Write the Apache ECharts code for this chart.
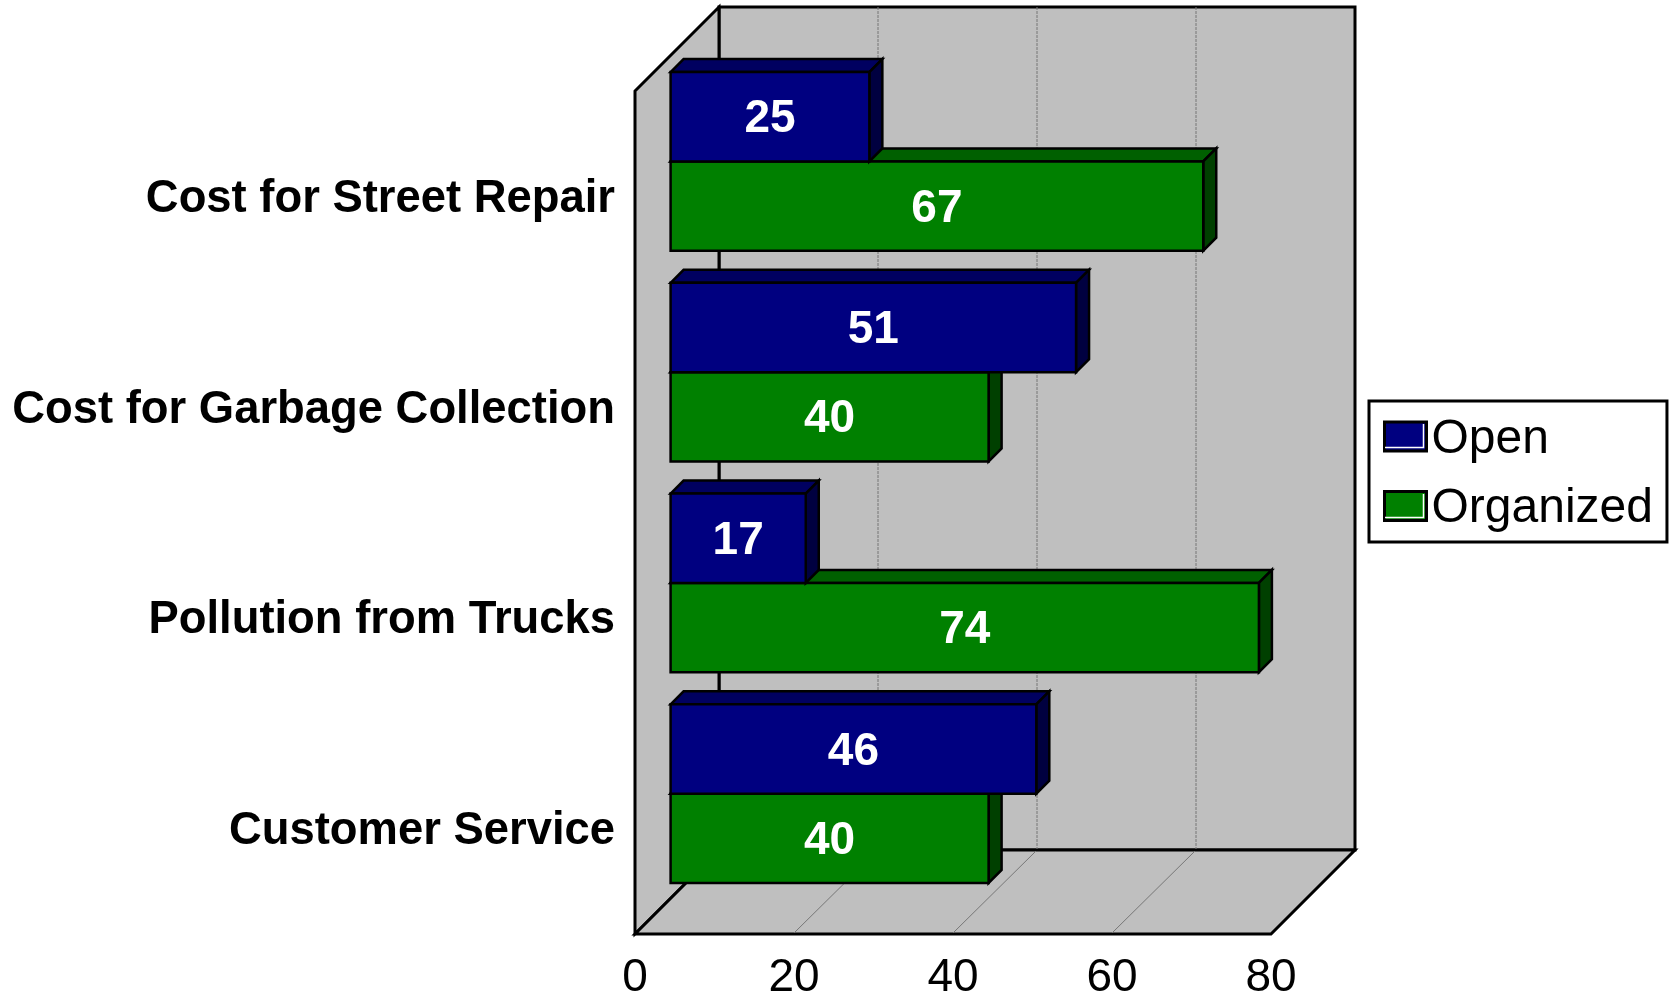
<!DOCTYPE html>
<html>
<head>
<meta charset="utf-8">
<style>
html, body { margin: 0; padding: 0; background: #fff; }
#chart { width: 1671px; height: 995px; }
</style>
<script src="https://cdn.jsdelivr.net/npm/echarts@6/dist/echarts.min.js"></script>
</head>
<body>
<div id="chart"></div>
<script>
const categories = ['Cost for Street Repair', 'Cost for Garbage Collection', 'Pollution from Trucks', 'Customer Service'];
const openValues = [25, 51, 17, 46];
const organizedValues = [67, 40, 74, 40];
const xTicks = [0, 20, 40, 60, 80];

const FONT = '"Liberation Sans", Arial, sans-serif';
const WALL_COLOR = '#BFBFBF';
const OPEN_COLOR = '#000080';
const OPEN_TOP = '#000060';
const OPEN_SIDE = '#000040';
const ORG_COLOR = '#008000';
const ORG_TOP = '#006000';
const ORG_SIDE = '#004000';

// 3D 效果的偏移
const WALL_DEPTH = 84;
const BAR_OFFSET_X = 35.6;
const BAR_OFFSET_Y = 35;
const BAR_DEPTH = 13;
const BAR_SHARE = 0.424;
const LABEL_DROP = 3;

const poly = (points, fill, lineWidth) => ({
    type: 'polygon',
    shape: { points },
    style: { fill, stroke: '#000', lineWidth, lineJoin: 'miter' }
});

const line = (x1, y1, x2, y2, lineWidth, stroke, lineDash) => ({
    type: 'line',
    shape: { x1, y1, x2, y2 },
    style: { stroke, lineWidth, lineDash }
});

const renderWalls = (params, api) => {
    let c = params.coordSys;
    let d = WALL_DEPTH;
    let left = c.x, top = c.y, right = c.x + c.width, bottom = c.y + c.height;
    let children = [
        poly([[left + d, top - d], [right + d, top - d], [right + d, bottom - d], [left + d, bottom - d]], WALL_COLOR, 3),
        poly([[left, top], [left + d, top - d], [left + d, bottom - d], [left, bottom]], WALL_COLOR, 3),
        poly([[left, bottom], [left + d, bottom - d], [right + d, bottom - d], [right, bottom]], WALL_COLOR, 3)
    ];
    xTicks.slice(1, -1).forEach((t) => {
        let x = api.coord([t, 0])[0];
        children.push(line(x + d, top - d, x + d, bottom - d - 1, 1, '#777', [3, 1]));
        children.push(line(x, bottom - 1, x + d - 1, bottom - d + 1, 1, '#777'));
    });
    return { type: 'group', children };
};

const renderBar = (side, topColor, sideColor) => (params, api) => {
    let end = api.coord([api.value(0), api.value(1)]);
    let start = api.coord([0, api.value(1)]);
    let band = api.size([0, 1])[1];
    let h = band * BAR_SHARE;
    let x0 = start[0] + BAR_OFFSET_X;
    let x1 = end[0] + BAR_OFFSET_X;
    let mid = end[1] - BAR_OFFSET_Y;
    let y0 = side < 0 ? mid - h : mid;
    let y1 = y0 + h;
    let d = BAR_DEPTH;
    return {
        type: 'group',
        children: [
            poly([[x0, y0], [x0 + d, y0 - d], [x1 + d, y0 - d], [x1, y0]], topColor, 2.5),
            poly([[x1, y0], [x1 + d, y0 - d], [x1 + d, y1 - d], [x1, y1]], sideColor, 2.5),
            poly([[x0, y0], [x1, y0], [x1, y1], [x0, y1]], api.visual('color'), 2.5),
            {
                type: 'text',
                style: {
                    x: (x0 + x1) / 2,
                    y: (y0 + y1) / 2 + LABEL_DROP,
                    text: String(api.value(0)),
                    fill: '#fff',
                    font: 'bold 46px ' + FONT,
                    align: 'center',
                    verticalAlign: 'middle'
                }
            }
        ]
    };
};

// 图例色块内侧的白色高光
const swatchShine = (top) => ({
    type: 'polyline',
    z: 100,
    silent: true,
    shape: { points: [[1385, top + 26.5], [1423.5, top + 26.5], [1423.5, top + 3]] },
    style: { fill: 'none', stroke: '#fff', lineWidth: 1.5 }
});

const toRows = (values) => values.map((v, i) => [v, i]);

const chart = echarts.init(document.getElementById('chart'), null, { renderer: 'canvas' });
chart.setOption({
    animation: false,
    backgroundColor: '#fff',
    grid: { left: 635, top: 91, width: 636, height: 843, containLabel: false, outerBoundsMode: 'none' },
    xAxis: {
        type: 'value',
        min: 0,
        max: 80,
        interval: 20,
        axisLine: { show: false },
        axisTick: { show: false },
        splitLine: { show: false },
        axisLabel: { color: '#000', fontFamily: FONT, fontSize: 46, margin: 21, showMinLabel: true, showMaxLabel: true }
    },
    yAxis: {
        type: 'category',
        inverse: true,
        data: categories,
        axisLine: { show: false },
        axisTick: { show: false },
        axisLabel: {
            margin: 20,
            interval: 0,
            formatter: '{c|{value}}',
            rich: { c: { color: '#000', fontFamily: FONT, fontSize: 45.4, fontWeight: 'bold', padding: [6, 0, 0, 0] } }
        }
    },
    legend: {
        orient: 'vertical',
        left: 1369,
        top: 401,
        padding: [14.5, 14, 9, 14],
        data: ['Open', 'Organized'],
        icon: 'rect',
        itemWidth: 42,
        itemHeight: 29,
        itemGap: 21.5,
        backgroundColor: '#fff',
        borderColor: '#000',
        borderWidth: 3,
        borderRadius: 0,
        itemStyle: { borderColor: '#000', borderWidth: 3 },
        formatter: '{t|{name}}',
        textStyle: {
            rich: { t: { color: '#000', fontFamily: FONT, fontSize: 48, padding: [6, 0, 0, 0] } }
        }
    },
    graphic: [swatchShine(421), swatchShine(491)],
    series: [
        {
            type: 'custom',
            name: 'walls',
            silent: true,
            z: 1,
            data: [[0, 0]],
            renderItem: renderWalls
        },
        {
            type: 'custom',
            name: 'Open',
            z: 3,
            itemStyle: { color: OPEN_COLOR },
            encode: { x: 0, y: 1 },
            data: toRows(openValues),
            renderItem: renderBar(-1, OPEN_TOP, OPEN_SIDE)
        },
        {
            type: 'custom',
            name: 'Organized',
            z: 2,
            itemStyle: { color: ORG_COLOR },
            encode: { x: 0, y: 1 },
            data: toRows(organizedValues),
            renderItem: renderBar(1, ORG_TOP, ORG_SIDE)
        }
    ]
});
</script>
</body>
</html>
